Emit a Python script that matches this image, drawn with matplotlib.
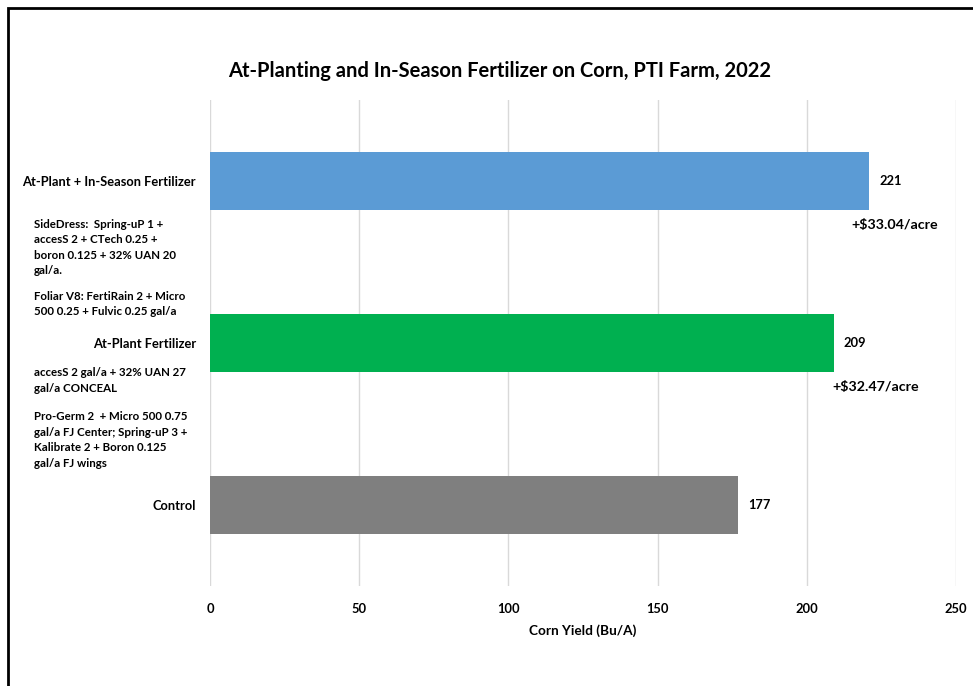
import matplotlib.pyplot as plt
from matplotlib.patches import Rectangle

plt.rcParams['font.family'] = ['Lato', 'DejaVu Sans']
plt.rcParams['font.weight'] = 'bold'

# data
categories = ['Control', 'At-Plant Fertilizer', 'At-Plant + In-Season Fertilizer']
yields = [177, 209, 221]
bar_colors = ['#7f7f7f', '#00b050', '#5b9bd5']
profit_labels = ['', '+$32.47/acre', '+$33.04/acre']

# descriptive notes placed between categories (y in category units)
notes = [
    'SideDress:  Spring-uP 1 +\naccesS 2 + CTech 0.25 +\nboron 0.125 + 32% UAN 20\ngal/a.',
    'Foliar V8: FertiRain 2 + Micro\n500 0.25 + Fulvic 0.25 gal/a',
    'accesS 2 gal/a + 32% UAN 27\ngal/a CONCEAL',
    'Pro-Germ 2  + Micro 500 0.75\ngal/a FJ Center; Spring-uP 3 +\nKalibrate 2 + Boron 0.125\ngal/a FJ wings',
]
note_y = [1.59, 1.24, 0.77, 0.40]

fig = plt.figure(figsize=(9.73, 6.86), dpi=100)
ax = fig.add_axes([210/973, 1 - 586/686, 746/973, 486/686])

ypos = list(range(len(categories)))
ax.barh(ypos, yields, height=0.36, color=bar_colors, zorder=3)

ax.set_xlim(0, 250)
ax.set_ylim(-0.5, 2.5)
ax.set_xticks([0, 50, 100, 150, 200, 250])
ax.set_yticks(ypos)
ax.set_yticklabels(categories)
ax.tick_params(axis='both', length=0, labelsize=9.3)
ax.tick_params(axis='x', pad=12)
ax.tick_params(axis='y', pad=10)
for s in ax.spines.values():
    s.set_visible(False)
ax.grid(axis='x', color='#d9d9d9', linewidth=1, zorder=0)
ax.set_xlabel('Corn Yield (Bu/A)', fontsize=9.8, fontweight='bold', labelpad=7)

for y, v, p in zip(ypos, yields, profit_labels):
    ax.annotate(str(v), xy=(v, y), xytext=(7, 0), textcoords='offset points',
                va='center', ha='left', fontsize=9.3)
    if p:
        ax.annotate(p, xy=(v, y), xytext=(-13 if v > 215 else -1, -32),
                    textcoords='offset points', va='center', ha='left', fontsize=10.3)

for t, y in zip(notes, note_y):
    ax.text(-176 / 2.984, y, t, ha='left', va='center', fontsize=8.3,
            linespacing=1.5)

fig.text(500/973, 1 - 71/686, 'At-Planting and In-Season Fertilizer on Corn, PTI Farm, 2022',
         ha='center', va='center', fontsize=14.5, fontweight='bold')

# outer frame (left and top edges visible)
fig.add_artist(Rectangle((8/973, -0.1), 1.2, 1 - 8/686 + 0.1, transform=fig.transFigure,
                         fill=False, edgecolor='black', linewidth=2))

fig.savefig('out.png', dpi=100)
